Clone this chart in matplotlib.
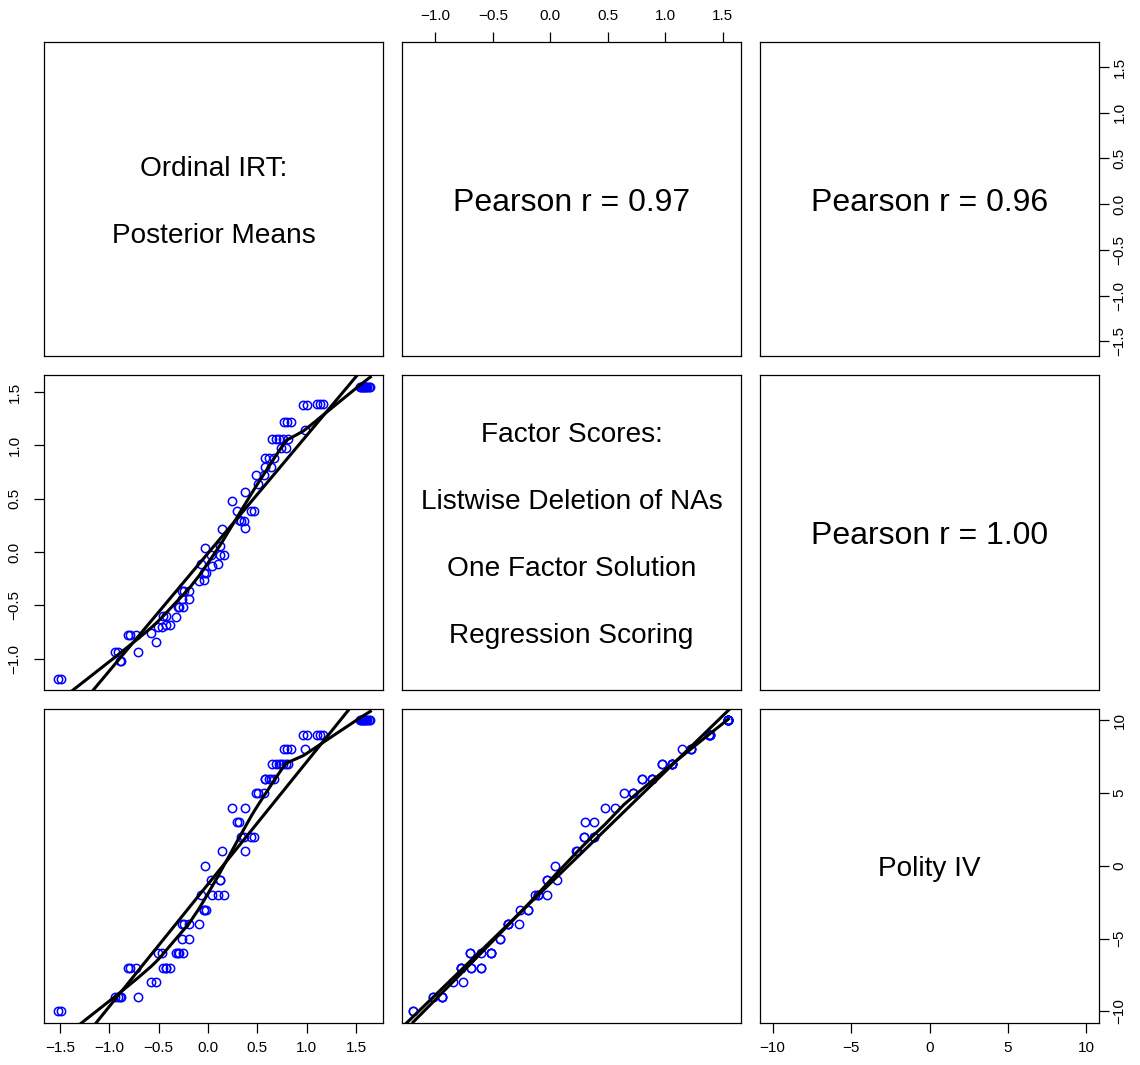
import numpy as np
import matplotlib
matplotlib.use("Agg")
import matplotlib.pyplot as plt

plt.rcParams['font.family'] = ['Liberation Sans', 'DejaVu Sans']

# ---------------- data (one entry per country) ----------------
polity = [10] * 10 + [9] * 5 + [8] * 4 + [7] * 7 + [6] * 5 + [5] * 3 + [4] * 2 + [3] * 2 + [2] * 4 + \
         [1] * 2 + [0] * 1 + [-1] * 3 + [-2] * 4 + [-3] * 3 + [-4] * 4 + [-5] * 2 + [-6] * 6 + \
         [-7] * 7 + [-8] * 2 + [-9] * 5 + [-10] * 2

irt = [1.535, 1.55, 1.56, 1.575, 1.585, 1.595, 1.605, 1.615, 1.63, 1.645,
       0.96, 1.00, 1.10, 1.13, 1.165,
       0.77, 0.80, 0.84, 0.98,
       0.65, 0.69, 0.72, 0.76, 0.81, 0.74, 0.79,
       0.575, 0.615, 0.67, 0.58, 0.64,
       0.49, 0.567, 0.51,
       0.243, 0.372,
       0.29, 0.31,
       0.33, 0.36, 0.44, 0.47,
       0.146, 0.372,
       -0.027,
       0.035, 0.125, 0.12,
       -0.067, 0.041, 0.10, 0.16,
       -0.037, -0.02, -0.037,
       -0.26, -0.243, -0.196, -0.094,
       -0.26, -0.19,
       -0.506, -0.466, -0.32, -0.30, -0.29, -0.253,
       -0.81, -0.793, -0.733, -0.456, -0.43, -0.43, -0.39,
       -0.58, -0.53,
       -0.945, -0.912, -0.895, -0.877, -0.709,
       -1.52, -1.49]

factor = [1.549] * 10 + \
         [1.383, 1.383, 1.39, 1.39, 1.39] + \
         [1.222, 1.222, 1.222, 1.141] + \
         [1.059, 1.059, 1.059, 1.059, 1.059, 0.975, 0.975] + \
         [0.885, 0.885, 0.885, 0.80, 0.80] + \
         [0.722, 0.722, 0.640] + \
         [0.477, 0.559] + \
         [0.384, 0.302] + \
         [0.291, 0.291, 0.384, 0.384] + \
         [0.221, 0.228] + \
         [0.040] + \
         [-0.032, 0.055, -0.032] + \
         [-0.111, -0.131, -0.111, -0.032] + \
         [-0.192, -0.192, -0.265] + \
         [-0.364, -0.364, -0.364, -0.271] + \
         [-0.437, -0.437] + \
         [-0.699, -0.699, -0.606, -0.519, -0.519, -0.519] + \
         [-0.781, -0.781, -0.781, -0.600, -0.600, -0.687, -0.687] + \
         [-0.760, -0.845] + \
         [-0.941, -0.941, -1.019, -1.019, -0.941] + \
         [-1.194, -1.194]

diag_labels = [["Ordinal IRT:", "Posterior Means"],
               ["Factor Scores:", "Listwise Deletion of NAs", "One Factor Solution", "Regression Scoring"],
               ["Polity IV"]]
pearson_labels = {(0, 1): "Pearson r = 0.97", (0, 2): "Pearson r = 0.96", (1, 2): "Pearson r = 1.00"}

irt_ticks = [-1.5, -1.0, -0.5, 0.0, 0.5, 1.0, 1.5]
irt_ticklabels = ["\u22121.5", "\u22121.0", "\u22120.5", "0.0", "0.5", "1.0", "1.5"]
fac_ticks = [-1.0, -0.5, 0.0, 0.5, 1.0, 1.5]
fac_ticklabels = ["\u22121.0", "\u22120.5", "0.0", "0.5", "1.0", "1.5"]
pol_ticks = [-10, -5, 0, 5, 10]
pol_ticklabels = ["\u221210", "\u22125", "0", "5", "10"]

variables = [np.array(irt), np.array(factor), np.array(polity, dtype=float)]
limits = [(-1.662, 1.773), (-1.29, 1.658), (-10.8, 10.8)]
ticks = [(irt_ticks, irt_ticklabels), (fac_ticks, fac_ticklabels), (pol_ticks, pol_ticklabels)]


def lowess(x, y, f=2 / 3, iters=3):
    """Port of R's lowess (local linear, tricube, bisquare robustness)."""
    order = np.argsort(x, kind="stable")
    xs = x[order]
    ys = y[order]
    n = len(xs)
    ns = max(2, min(n, int(f * n + 1e-7)))
    rw = np.ones(n)
    fit = np.zeros(n)
    xr = xs[-1] - xs[0]
    for it in range(iters + 1):
        for i in range(n):
            d = np.abs(xs - xs[i])
            h = np.sort(d)[ns - 1]
            if h > 0:
                w = np.where(d <= 0.999 * h, (1 - (d / h) ** 3) ** 3, 0.0)
                w[d <= 0.001 * h] = 1.0
            else:
                w = (d == 0).astype(float)
            w = w * rw
            sw = w.sum()
            if sw <= 0:
                fit[i] = ys[i]
                continue
            w = w / sw
            a = np.sum(w * xs)
            c = np.sum(w * (xs - a) ** 2)
            if np.sqrt(c) > 0.001 * xr:
                b = (xs[i] - a) / c
                w = w * (b * (xs - a) + 1)
            fit[i] = np.sum(w * ys)
        if it == iters:
            break
        res = np.abs(ys - fit)
        cmad = 6 * np.median(res)
        if cmad < 1e-7:
            break
        rw = np.where(res <= 0.999 * cmad, (1 - (res / cmad) ** 2) ** 2, 0.0)
        rw[res <= 0.001 * cmad] = 1.0
    return xs, fit


W, H = 1140, 1065
fig = plt.figure(figsize=(W / 100, H / 100), dpi=100)
col_left = [44, 402, 760]
row_top = [42, 375.3, 708.7]
pw, ph = 339, 314.3

label_size = 20.2
pearson_size = 23
tick_size = 11.0
line_step = 67 / ph
text_shift = -3.5 / ph

for i in range(3):
    for j in range(3):
        ax = fig.add_axes([col_left[j] / W, 1 - (row_top[i] + ph) / H, pw / W, ph / H])
        ax.set_xlim(limits[j])
        ax.set_ylim(limits[i])
        for s in ax.spines.values():
            s.set_linewidth(0.9)
            s.set_color("black")
        ax.set_xticks([])
        ax.set_yticks([])
        if i > j:
            x = variables[j]
            y = variables[i]
            ax.plot(x, y, linestyle="none", marker="o", markersize=6.0,
                    markerfacecolor="none", markeredgecolor="#0000FF", markeredgewidth=1.1, zorder=2)
            slope, intercept = np.polyfit(x, y, 1)
            ax.axline((0, intercept), slope=slope, color="black", lw=2.2, zorder=3)
            lx, ly = lowess(x, y)
            ax.plot(lx, ly, color="black", lw=2.2, zorder=3, solid_joinstyle="round")
        elif i == j:
            lines = diag_labels[i]
            k = len(lines)
            for m, t in enumerate(lines):
                yy = 0.5 + ((k - 1) / 2 - m) * line_step + text_shift
                ax.text(0.5, yy, t, transform=ax.transAxes, ha="center", va="center",
                        fontsize=label_size)
        else:
            ax.text(0.5, 0.5 + text_shift, pearson_labels[(i, j)], transform=ax.transAxes,
                    ha="center", va="center", fontsize=pearson_size)

        # axes in the R pairs style
        tk_kw = dict(direction="out", length=7.2, width=0.9, labelsize=tick_size, colors="black")
        if i == 2 and j in (0, 2):
            tv, tl = ticks[j]
            ax.set_xticks(tv)
            ax.set_xticklabels(tl)
            ax.tick_params(axis="x", pad=6.0, **tk_kw)
        if i == 0 and j == 1:
            tv, tl = ticks[j]
            ax.xaxis.tick_top()
            ax.set_xticks(tv)
            ax.set_xticklabels(tl)
            ax.tick_params(axis="x", pad=6.4, **tk_kw)
        if j == 2 and i in (0, 2):
            tv, tl = ticks[i]
            ax.yaxis.tick_right()
            ax.set_yticks(tv)
            ax.set_yticklabels(tl, rotation=90, va="center", ha="center")
            ax.tick_params(axis="y", pad=7.5, **tk_kw)
        if j == 0 and i == 1:
            tv, tl = ticks[i]
            ax.set_yticks(tv)
            ax.set_yticklabels(tl, rotation=90, va="center", ha="center")
            ax.tick_params(axis="y", pad=14.0, **tk_kw)

fig.savefig("out.png", dpi=100, facecolor="white")
